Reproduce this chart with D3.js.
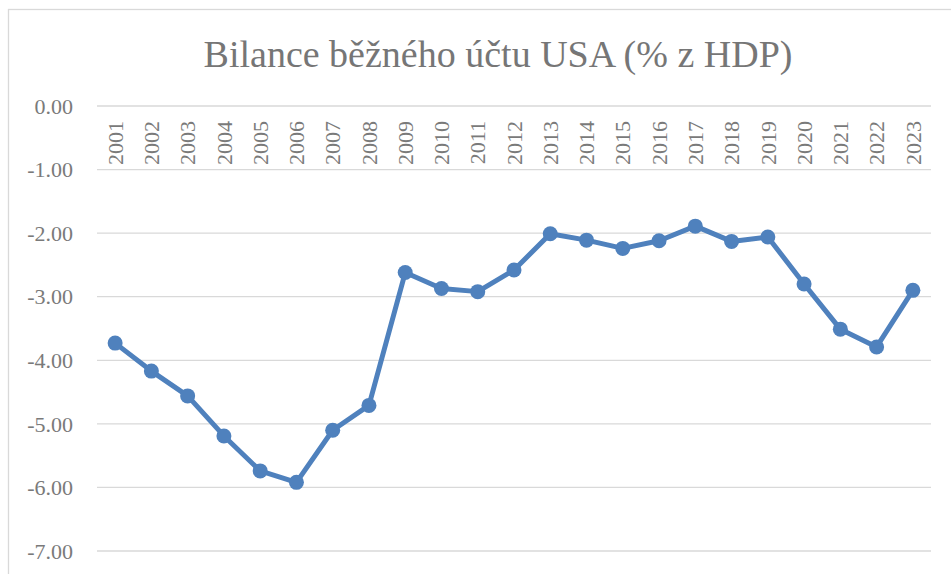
<!DOCTYPE html>
<head>
    <style>
    body { margin: 0; background: #fff; }
    .grid line { stroke: #d9d9d9; stroke-width: 1.3; }
    .ylab, .xlab { fill: #7a7a7a; font-family: "Liberation Serif", serif; font-size: 22px; }
    .title { fill: #767676; font-family: "Liberation Serif", serif; font-size: 38px; }
    </style>
    <script src="https://d3js.org/d3.v7.min.js"></script>
</head>
<body>
    <svg width="951" height="574"></svg>
    <script>

    var years = ["2001","2002","2003","2004","2005","2006","2007","2008","2009","2010","2011","2012",
                 "2013","2014","2015","2016","2017","2018","2019","2020","2021","2022","2023"];
    var balance = [-3.73, -4.17, -4.56, -5.19, -5.74, -5.92, -5.10, -4.71, -2.62, -2.87, -2.92, -2.58,
                   -2.01, -2.11, -2.24, -2.12, -1.89, -2.13, -2.06, -2.80, -3.51, -3.79, -2.90];
    var yTicks = [0, -1, -2, -3, -4, -5, -6, -7];

    var svg = d3.select("svg");

    // chart border (only top and left are inside the picture)
    svg.append("rect")
        .attr("x", 8.5).attr("y", 9.5)
        .attr("width", 1000).attr("height", 1000)
        .attr("fill", "none")
        .attr("stroke", "#d9d9d9")
        .attr("stroke-width", 1.3);

    var x = d3.scaleBand()
        .domain(years)
        .range([97, 931]);

    var y = d3.scaleLinear()
        .domain([-7, 0])
        .range([551, 106]);

    svg.append("g")
        .attr("class", "grid")
      .selectAll("line")
      .data(yTicks)
      .enter().append("line")
        .attr("x1", 97).attr("x2", 931)
        .attr("y1", function(d) { return y(d); })
        .attr("y2", function(d) { return y(d); });

    svg.append("g")
      .selectAll("text")
      .data(yTicks)
      .enter().append("text")
        .attr("class", "ylab")
        .attr("x", 73)
        .attr("y", function(d) { return y(d); })
        .attr("dy", "0.35em")
        .attr("text-anchor", "end")
        .text(function(d) { return d.toFixed(2); });

    svg.append("g")
      .selectAll("text")
      .data(years)
      .enter().append("text")
        .attr("class", "xlab")
        .attr("transform", function(d) {
          return "translate(" + (x(d) + x.bandwidth() / 2) + "," + 121 + ") rotate(-90)";
        })
        .attr("dy", "0.35em")
        .attr("text-anchor", "end")
        .text(function(d) { return d; });

    var data = years.map(function(d, i) { return { year: d, value: balance[i] }; });

    var line = d3.line()
        .x(function(d) { return x(d.year) + x.bandwidth() / 2; })
        .y(function(d) { return y(d.value); });

    svg.append("path")
        .datum(data)
        .attr("fill", "none")
        .attr("stroke", "#4f81bd")
        .attr("stroke-width", 5)
        .attr("stroke-linejoin", "round")
        .attr("d", line);

    svg.append("g")
      .selectAll("circle")
      .data(data)
      .enter().append("circle")
        .attr("cx", function(d) { return x(d.year) + x.bandwidth() / 2; })
        .attr("cy", function(d) { return y(d.value); })
        .attr("r", 7.5)
        .attr("fill", "#4f81bd");

    svg.append("text")
        .attr("class", "title")
        .attr("x", 498)
        .attr("y", 67)
        .attr("text-anchor", "middle")
        .text("Bilance běžného účtu USA (% z HDP)");

    </script>
</body>
